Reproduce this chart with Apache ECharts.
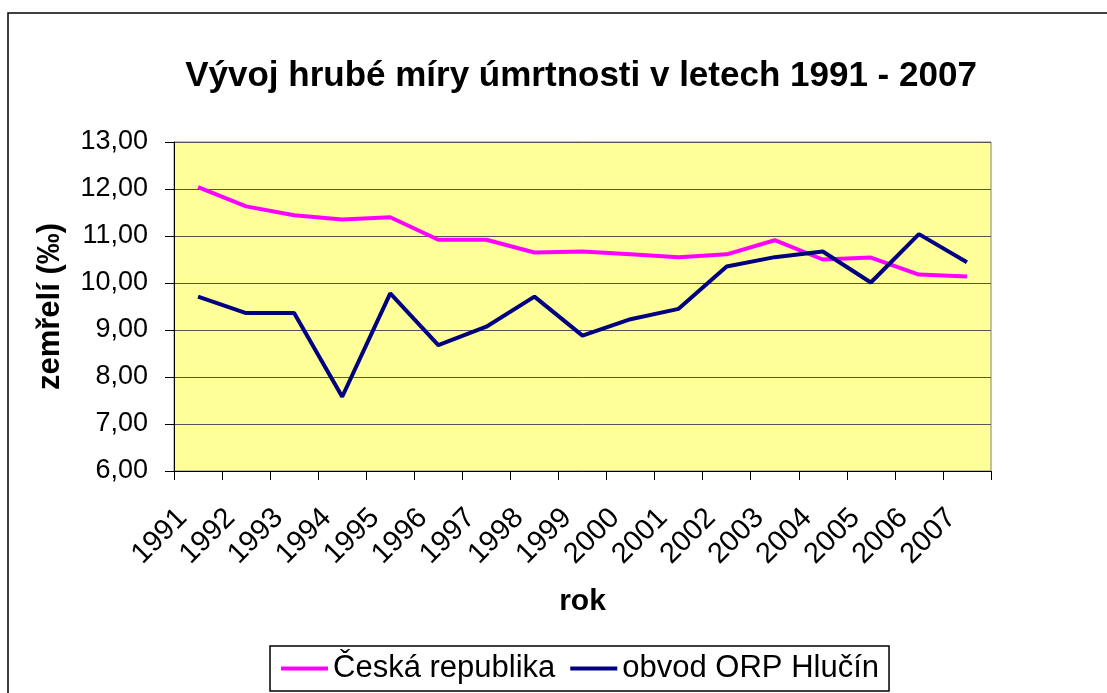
<!DOCTYPE html>
<html>
<head>
<meta charset="utf-8">
<script src="https://cdn.jsdelivr.net/npm/echarts@6/dist/echarts.min.js"></script>
<style>
  html, body { margin: 0; padding: 0; background: #fff; }
  #chart { width: 1107px; height: 693px; }
</style>
</head>
<body>
<div id="chart"></div>
<script>
// roky a hodnoty (‰)
var years = ['1991', '1992', '1993', '1994', '1995', '1996', '1997', '1998', '1999',
             '2000', '2001', '2002', '2003', '2004', '2005', '2006', '2007'];
var ceskaRepublika = [12.04, 11.63, 11.44, 11.35, 11.40, 10.92, 10.92, 10.65, 10.67,
                      10.61, 10.55, 10.61, 10.91, 10.50, 10.54, 10.18, 10.14];
var orpHlucin = [9.71, 9.36, 9.36, 7.58, 9.78, 8.68, 9.07, 9.71, 8.88,
                 9.23, 9.45, 10.35, 10.55, 10.67, 10.01, 11.04, 10.44];
var yMin = 6, yMax = 13, yStep = 1;

var font = 'Arial, "Liberation Sans", sans-serif';

var myChart = echarts.init(document.getElementById('chart'));
myChart.setOption({
  animation: false,
  textStyle: { fontFamily: font, color: '#000' },
  graphic: [{
    type: 'rect',
    shape: { x: 8, y: 13, width: 1200, height: 800 },
    style: { fill: 'none', stroke: '#000', lineWidth: 1.5 },
    silent: true
  }],
  title: {
    text: 'Vývoj hrubé míry úmrtnosti v letech 1991 - 2007',
    left: 576,
    top: 54,
    textAlign: 'center',
    textStyle: { fontSize: 35, fontWeight: 'bold', color: '#000', fontFamily: font }
  },
  grid: {
    left: 174, right: 116, top: 142, bottom: 222,
    show: true,
    backgroundColor: '#FFFF99',
    borderColor: '#808080',
    borderWidth: 1,
    outerBoundsMode: 'none'
  },
  legend: {
    left: 270,
    top: 646,
    padding: [7, 10, 7, 11],
    itemGap: 15,
    itemWidth: 47,
    itemHeight: 4,
    icon: 'rect',
    borderColor: '#000',
    borderWidth: 1.5,
    textStyle: { fontSize: 31, color: '#000', fontFamily: font },
    data: ['Česká republika', 'obvod ORP Hlučín']
  },
  xAxis: {
    type: 'category',
    data: years,
    boundaryGap: true,
    name: 'rok',
    nameLocation: 'middle',
    nameGap: 116,
    nameTextStyle: { fontSize: 30, fontWeight: 'bold', color: '#000' },
    axisLine: { lineStyle: { color: '#000', width: 1 } },
    axisTick: { show: true, length: 9, lineStyle: { color: '#000' } },
    axisLabel: {
      rotate: 45,
      margin: 27,
      padding: [0, 22, 0, 0],
      fontSize: 29,
      color: '#000',
      interval: 0
    },
    splitLine: { show: false }
  },
  yAxis: {
    type: 'value',
    min: yMin,
    max: yMax,
    interval: yStep,
    name: 'zemřelí (‰)',
    nameLocation: 'middle',
    nameGap: 108,
    nameTextStyle: { fontSize: 31, fontWeight: 'bold', color: '#000' },
    axisLine: { show: true, lineStyle: { color: '#000', width: 1 } },
    axisTick: { show: true, length: 9, lineStyle: { color: '#000' } },
    axisLabel: {
      margin: 26,
      fontSize: 27,
      color: '#000',
      formatter: function (v) { return v.toFixed(2).replace('.', ','); }
    },
    splitLine: { show: true, lineStyle: { color: '#555', width: 1 } }
  },
  series: [
    {
      name: 'Česká republika',
      type: 'line',
      data: ceskaRepublika,
      showSymbol: false,
      symbol: 'none',
      color: '#FF00FF',
      lineStyle: { color: '#FF00FF', width: 4 }
    },
    {
      name: 'obvod ORP Hlučín',
      type: 'line',
      data: orpHlucin,
      showSymbol: false,
      symbol: 'none',
      color: '#000080',
      lineStyle: { color: '#000080', width: 4 }
    }
  ]
});
</script>
</body>
</html>
